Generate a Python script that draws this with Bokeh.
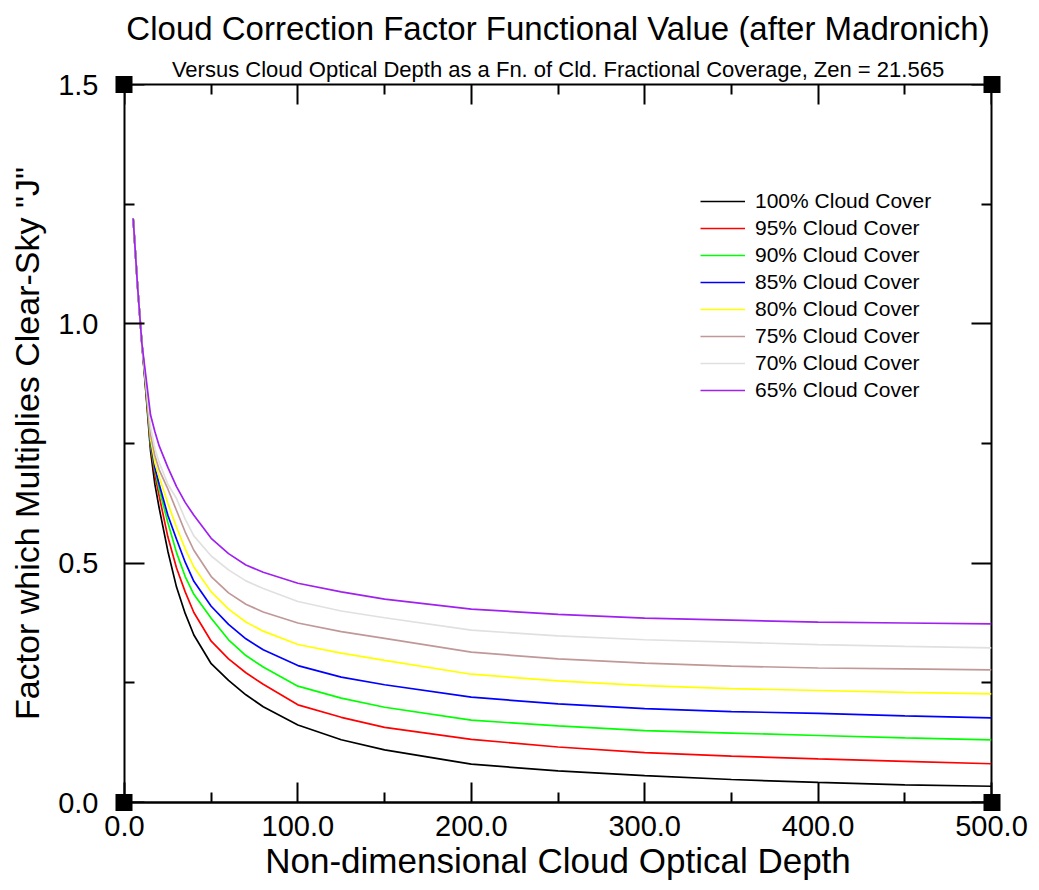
from bokeh.plotting import figure
from bokeh.models import (LinearAxis, FixedTicker, NumeralTickFormatter, Range1d,
                          Title, Legend, LegendItem)
from bokeh.embed import file_html
from bokeh.resources import INLINE

# ---------------- data ----------------
depth = [5, 7.5, 10, 12.5, 15, 17.5, 20, 25, 30, 35, 40, 50, 60, 70, 80, 100, 125, 150,
         200, 250, 300, 350, 400, 450, 500]

cc100 = [1.22, 1.08, 0.96, 0.850, 0.735, 0.665, 0.615, 0.525, 0.450, 0.395, 0.350, 0.290, 0.255,
         0.225, 0.200, 0.162, 0.131, 0.110, 0.080, 0.066, 0.056, 0.048, 0.042, 0.037, 0.034]
cc95 = [1.22, 1.08, 0.96, 0.855, 0.745, 0.685, 0.640, 0.555, 0.490, 0.440, 0.397, 0.337, 0.300,
        0.271, 0.247, 0.204, 0.178, 0.157, 0.132, 0.116, 0.104, 0.097, 0.091, 0.086, 0.081]
cc90 = [1.22, 1.08, 0.96, 0.860, 0.750, 0.695, 0.655, 0.585, 0.522, 0.472, 0.435, 0.385, 0.340,
        0.307, 0.283, 0.243, 0.218, 0.199, 0.172, 0.160, 0.150, 0.145, 0.140, 0.135, 0.131]
cc85 = [1.22, 1.08, 0.96, 0.863, 0.755, 0.700, 0.665, 0.600, 0.550, 0.502, 0.462, 0.410, 0.372,
        0.342, 0.319, 0.286, 0.262, 0.246, 0.220, 0.206, 0.196, 0.190, 0.186, 0.181, 0.177]
cc80 = [1.22, 1.08, 0.96, 0.866, 0.760, 0.710, 0.680, 0.625, 0.575, 0.530, 0.492, 0.440, 0.404,
        0.377, 0.358, 0.330, 0.312, 0.297, 0.268, 0.254, 0.244, 0.238, 0.234, 0.230, 0.227]
cc75 = [1.22, 1.08, 0.96, 0.870, 0.770, 0.725, 0.695, 0.655, 0.610, 0.565, 0.527, 0.472, 0.438,
        0.414, 0.398, 0.375, 0.357, 0.343, 0.314, 0.300, 0.291, 0.285, 0.281, 0.279, 0.277]
cc70 = [1.22, 1.08, 0.96, 0.875, 0.785, 0.740, 0.710, 0.665, 0.635, 0.592, 0.557, 0.515, 0.486,
        0.463, 0.447, 0.420, 0.400, 0.386, 0.360, 0.348, 0.340, 0.335, 0.330, 0.326, 0.323]
cc65 = [1.22, 1.08, 0.96, 0.885, 0.810, 0.775, 0.745, 0.700, 0.660, 0.627, 0.600, 0.552, 0.520,
        0.496, 0.481, 0.458, 0.440, 0.425, 0.404, 0.393, 0.385, 0.381, 0.377, 0.375, 0.373]

series = [cc100, cc95, cc90, cc85, cc80, cc75, cc70, cc65]
labels = ["100% Cloud Cover", "95% Cloud Cover", "90% Cloud Cover", "85% Cloud Cover",
          "80% Cloud Cover", "75% Cloud Cover", "70% Cloud Cover", "65% Cloud Cover"]
colors = ["#000000", "#ff0000", "#00ff00", "#0000ff", "#ffff00", "#c09898", "#e0e0e0", "#a020f0"]

x_min, x_max = 0, 500
y_min, y_max = 0.0, 1.5
x_ticks = [0, 100, 200, 300, 400, 500]
x_minor = [50, 150, 250, 350, 450]
y_ticks = [0.0, 0.5, 1.0, 1.5]
y_minor = [0.25, 0.75, 1.25]

title_text = "Cloud Correction Factor Functional Value (after Madronich)"
subtitle_text = "Versus Cloud Optical Depth as a Fn. of Cld. Fractional Coverage, Zen = 21.565"
x_label = "Non-dimensional Cloud Optical Depth"
y_label = 'Factor which Multiplies Clear-Sky "J"'

FONT = "Liberation Sans"

# ---------------- figure ----------------
p = figure(width=1031, height=882, x_range=Range1d(x_min, x_max), y_range=Range1d(y_min, y_max),
           output_backend="svg", toolbar_location=None, title=None,
           x_axis_type=None, y_axis_type=None,
           min_border_left=124, min_border_right=40, min_border_top=84, min_border_bottom=79)
p.outline_line_color = "black"
p.outline_line_width = 2
p.background_fill_color = "white"
p.border_fill_color = "white"


def ticks_style(ax):
    ax.axis_line_color = None
    ax.major_tick_line_width = 2
    ax.minor_tick_line_width = 2
    ax.major_tick_in = 20
    ax.major_tick_out = 0
    ax.minor_tick_in = 10
    ax.minor_tick_out = 0


def hide_labels(ax):
    ax.major_label_text_font_size = "1px"
    ax.major_label_text_color = None
    ax.major_label_standoff = 0


# ---- ticks only (fixed on the frame edges, take no layout space) ----
for side, loc, tk, mn in (("above", y_max, x_ticks, x_minor),
                          ("left", x_min, y_ticks, y_minor),
                          ("right", x_max, y_ticks, y_minor)):
    ax = LinearAxis(ticker=FixedTicker(ticks=tk, minor_ticks=mn), fixed_location=loc)
    ticks_style(ax)
    hide_labels(ax)
    p.add_layout(ax, side)

# ---- corner markers: thick short ticks at both ends of the left and right edges ----
for side in ("left", "right"):
    sq = LinearAxis(ticker=FixedTicker(ticks=[y_min, y_max], minor_ticks=[]))
    sq.axis_line_color = None
    sq.major_tick_line_color = "black"
    sq.major_tick_line_width = 17
    sq.major_tick_line_cap = "butt"
    sq.major_tick_in = 8
    sq.major_tick_out = 9
    sq.minor_tick_line_color = None
    hide_labels(sq)
    p.add_layout(sq, side)

# ---- labelled axes ----
xb = LinearAxis(ticker=FixedTicker(ticks=x_ticks, minor_ticks=x_minor))
ticks_style(xb)
xb.axis_line_color = "black"
xb.axis_line_width = 2
xb.formatter = NumeralTickFormatter(format="0.0")
xb.major_label_text_font = FONT
xb.major_label_text_font_size = "29px"
xb.major_label_text_color = "black"
xb.major_label_standoff = 13
xb.axis_label = x_label
xb.axis_label_text_font = FONT
xb.axis_label_text_font_style = "normal"
xb.axis_label_text_color = "black"
xb.axis_label_text_font_size = "35px"
xb.axis_label_standoff = 2
p.add_layout(xb, "below")

yl = LinearAxis(ticker=FixedTicker(ticks=y_ticks, minor_ticks=y_minor))
yl.axis_line_color = None
yl.major_tick_line_color = None
yl.minor_tick_line_color = None
yl.major_tick_in = 0
yl.major_tick_out = 0
yl.minor_tick_in = 0
yl.minor_tick_out = 0
yl.formatter = NumeralTickFormatter(format="0.0")
yl.major_label_text_font = FONT
yl.major_label_text_font_size = "29px"
yl.major_label_text_color = "black"
yl.major_label_standoff = 17
yl.axis_label = y_label
yl.axis_label_text_font = FONT
yl.axis_label_text_font_style = "normal"
yl.axis_label_text_color = "black"
yl.axis_label_text_font_size = "34px"
yl.axis_label_standoff = 9
p.add_layout(yl, "left")

# titles (first added is nearest to the frame)
p.add_layout(Title(text=subtitle_text, align="center", text_font=FONT, text_font_size="22px",
                   text_font_style="normal", text_color="black", standoff=5), "above")
p.add_layout(Title(text=title_text, align="center", text_font=FONT, text_font_size="33px",
                   text_font_style="normal", text_color="black", standoff=11), "above")

# curves
items = []
for ys, lab, col in zip(series, labels, colors):
    r = p.line(depth, ys, line_color=col, line_width=1.7)
    items.append(LegendItem(label=lab, renderers=[r]))

legend = Legend(items=items, location=(576, 400), label_text_font=FONT,
                label_text_font_size="21px", label_text_color="black",
                glyph_width=45, glyph_height=20, label_height=20, spacing=3,
                padding=0, margin=0, label_standoff=10,
                border_line_color=None, background_fill_alpha=0)
p.add_layout(legend)

open("out.html", "w").write(file_html(p, INLINE))
